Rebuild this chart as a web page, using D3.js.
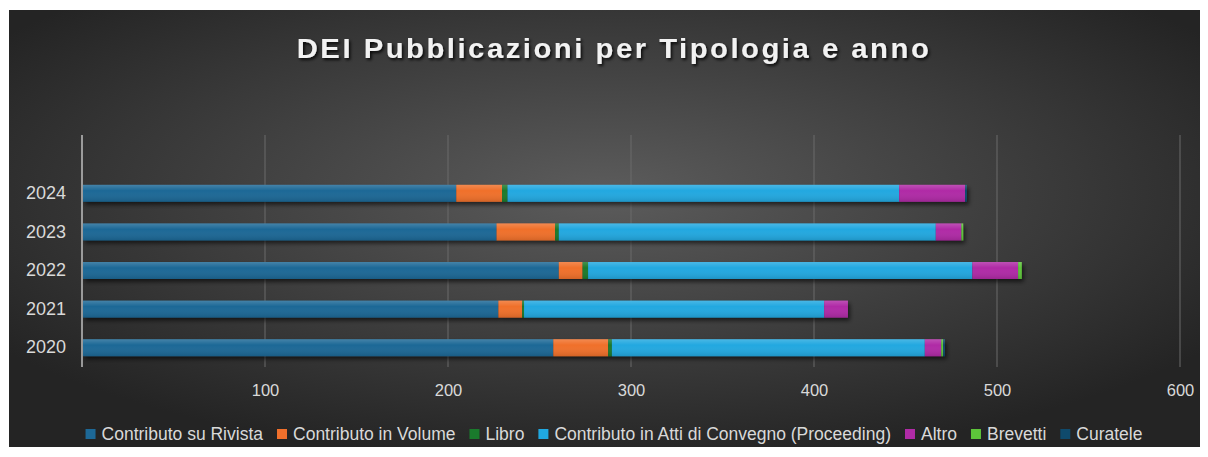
<!DOCTYPE html>
<html><head><meta charset="utf-8">
<script src="https://cdn.jsdelivr.net/npm/d3@7"></script>
<style>body{margin:0;background:#fff}svg{display:block}</style>
</head><body>
<svg id="c" width="1208" height="457"></svg>
<script>
const years = ["2024","2023","2022","2021","2020"];
const seriesNames = ["Contributo su Rivista","Contributo in Volume","Libro","Contributo in Atti di Convegno (Proceeding)","Altro","Brevetti","Curatele"];
const rivista    = [204, 226, 260, 227, 257];
const volume     = [25, 32, 13, 13, 30];
const libro      = [3, 2, 3, 1, 2];
const proceeding = [214, 206, 210, 164, 171];
const altro      = [36, 14, 25, 13, 9];
const brevetti   = [0, 1, 2, 0, 1];
const curatele   = [1, 0, 0, 0, 1];
const xTicks = [100, 200, 300, 400, 500, 600];
const colors = ["#1d6896","#f0702c","#1a7a2c","#20a8e0","#b02ba6","#5dc43a","#0f4a6c"];
const titleText = "DEI Pubblicazioni per Tipologia e anno";

const seriesValues = [rivista, volume, libro, proceeding, altro, brevetti, curatele];
const table = years.map((y, i) => {
  const row = {year: y};
  seriesNames.forEach((s, k) => row[s] = seriesValues[k][i]);
  return row;
});

const svg = d3.select("#c");
const defs = svg.append("defs");
const rg = defs.append("radialGradient").attr("id","bg").attr("cx","50%").attr("cy","42%").attr("r","62%");
rg.append("stop").attr("offset","0%").attr("stop-color","#5c5c5c");
rg.append("stop").attr("offset","100%").attr("stop-color","#242424");
const sh = defs.append("filter").attr("id","sh").attr("x","-5%").attr("y","-50%").attr("width","110%").attr("height","220%");
sh.append("feDropShadow").attr("dx",2).attr("dy",3).attr("stdDeviation",2).attr("flood-color","#000").attr("flood-opacity",0.6);
const tsh = defs.append("filter").attr("id","tsh").attr("x","-5%").attr("y","-50%").attr("width","110%").attr("height","200%");
tsh.append("feDropShadow").attr("dx",1.5).attr("dy",2).attr("stdDeviation",1.5).attr("flood-color","#000").attr("flood-opacity",0.85);
const gl = defs.append("linearGradient").attr("id","gloss").attr("x1",0).attr("y1",0).attr("x2",0).attr("y2",1);
gl.append("stop").attr("offset","0%").attr("stop-color","#fff").attr("stop-opacity",0.18);
gl.append("stop").attr("offset","35%").attr("stop-color","#fff").attr("stop-opacity",0);
gl.append("stop").attr("offset","100%").attr("stop-color","#000").attr("stop-opacity",0.12);

svg.append("rect").attr("x",9).attr("y",10).attr("width",1191).attr("height",437).attr("fill","url(#bg)");

const tg = svg.append("g").attr("filter","url(#tsh)");
const title = tg.append("text").attr("x",0).attr("y",0).attr("text-anchor","middle")
  .attr("font-family","'Liberation Sans',Arial,sans-serif")
  .attr("font-weight","bold").attr("font-size",28).attr("letter-spacing",2.4).attr("fill","#f2f2f2")
  .text(titleText);
const tw = title.node().getComputedTextLength();
tg.attr("transform",`translate(614,58) scale(${635/tw},1)`);

const x = d3.scaleLinear().domain([0, 600]).range([82, 1180]);
const y = d3.scaleBand().domain(years).range([174, 367]).paddingInner(0.56).paddingOuter(0.28);
const plotTop = 135, plotBottom = 367;

svg.append("g").selectAll("line").data(xTicks).join("line")
  .attr("x1", d => x(d)).attr("x2", d => x(d)).attr("y1", plotTop).attr("y2", plotBottom)
  .attr("stroke","#6a6a6a").attr("stroke-width",1);

const xAxis = svg.append("g").attr("transform",`translate(0,${plotBottom})`)
  .call(d3.axisBottom(x).tickValues(xTicks).tickSize(0).tickPadding(17));
xAxis.select(".domain").remove();
xAxis.selectAll("text").attr("font-family","'Liberation Sans',Arial,sans-serif").attr("font-size",16.5).attr("fill","#d9d9d9");

const stack = d3.stack().keys(seriesNames)(table);
const bars = svg.append("g").attr("filter","url(#sh)");
stack.forEach((layer, k) => {
  bars.append("g").attr("fill", colors[k]).selectAll("rect").data(layer).join("rect")
    .attr("x", d => x(d[0]) + 1).attr("width", d => Math.max(0, x(d[1]) - x(d[0])))
    .attr("y", d => y(d.data.year)).attr("height", y.bandwidth());
});
svg.append("g").selectAll("rect").data(stack[stack.length-1]).join("rect")
  .attr("x", x(0) + 1).attr("width", d => x(d[1]) - x(0))
  .attr("y", d => y(d.data.year)).attr("height", y.bandwidth()).attr("fill","url(#gloss)");

svg.append("line").attr("x1",82).attr("x2",82).attr("y1",plotTop).attr("y2",plotBottom)
  .attr("stroke","#bfbfbf").attr("stroke-width",1.5);
const yAxis = svg.append("g").attr("transform","translate(82,0)")
  .call(d3.axisLeft(y).tickSize(0).tickPadding(16));
yAxis.select(".domain").remove();
yAxis.selectAll("text").attr("font-family","'Liberation Sans',Arial,sans-serif").attr("font-size",18).attr("fill","#d9d9d9");

const lg = svg.append("g");
let cx = 0;
seriesNames.forEach((s, k) => {
  const g = lg.append("g");
  g.append("rect").attr("x",0).attr("y",-5).attr("width",10).attr("height",10).attr("fill",colors[k]);
  const t = g.append("text").attr("x",16).attr("y",6).attr("font-family","'Liberation Sans',Arial,sans-serif")
    .attr("font-size",17.5).attr("fill","#d9d9d9").text(s);
  const w = 16 + t.node().getComputedTextLength();
  g.attr("transform",`translate(${cx},0)`);
  cx += w + 14;
});
const total = cx - 14;
lg.attr("transform",`translate(${614 - total/2},434)`);
</script>
</body></html>
